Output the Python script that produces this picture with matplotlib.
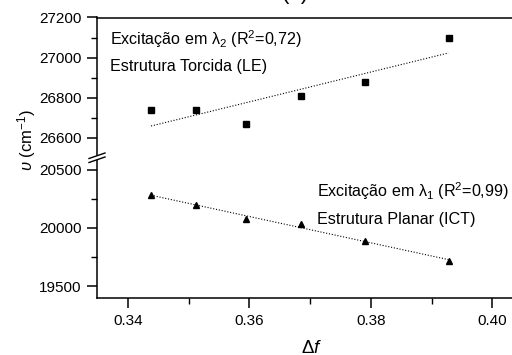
import numpy as np
import matplotlib.pyplot as plt
from matplotlib.lines import Line2D
from matplotlib.patches import Polygon
from matplotlib.ticker import MultipleLocator, FormatStrFormatter

plt.rcParams['font.family'] = ['Liberation Sans', 'DejaVu Sans']
plt.rcParams['mathtext.fontset'] = 'custom'
plt.rcParams['mathtext.rm'] = 'Liberation Sans'
plt.rcParams['mathtext.it'] = 'Liberation Sans:italic'

# Daten
delta_f = [0.3438, 0.3512, 0.3594, 0.3685, 0.3790, 0.3928]
nu_le = [26739, 26739, 26668, 26810, 26881, 27099]     # lambda 2, Torcida (LE)
nu_ict = [20280, 20196, 20080, 20036, 19883, 19717]    # lambda 1, Planar (ICT)

W, H = 512, 355
fig = plt.figure(figsize=(W / 100, H / 100), dpi=100)


def px_box(x0, y0, x1, y1):
    return [x0 / W, 1 - y1 / H, (x1 - x0) / W, (y1 - y0) / H]


ax_top = fig.add_axes(px_box(97, 17.5, 522, 158))
ax_bot = fig.add_axes(px_box(97, 158, 522, 297.7))

x = np.array(delta_f)
for ax, y, marker, ms in [(ax_top, nu_le, 's', 3.8), (ax_bot, nu_ict, '^', 4.6)]:
    ax.plot(x, y, linestyle='none', marker=marker, color='black', markersize=ms)
    k, d = np.polyfit(x, y, 1)
    xf = np.array([x[0], x[-1]])
    ax.plot(xf, k * xf + d, color='black', lw=0.8, linestyle=(0, (1, 1.6)))
    ax.set_xlim(0.3349, 0.4049)
    for s in ax.spines.values():
        s.set_linewidth(1.1)
    ax.tick_params(which='major', direction='out', length=7, width=1.1,
                   labelsize=11, pad=4)
    ax.tick_params(which='minor', direction='out', length=4, width=1.0)
    ax.tick_params(top=False, right=False, which='both')

ax_top.set_ylim(26500, 27200)
ax_top.yaxis.set_major_locator(MultipleLocator(200))
ax_top.yaxis.set_minor_locator(MultipleLocator(100))
ax_top.spines['bottom'].set_visible(False)
ax_top.tick_params(axis='x', which='both', bottom=False, labelbottom=False)

ax_bot.set_ylim(19400, 20600)
ax_bot.yaxis.set_major_locator(MultipleLocator(500))
ax_bot.yaxis.set_minor_locator(MultipleLocator(250))
ax_bot.spines['top'].set_visible(False)
ax_bot.xaxis.set_major_locator(MultipleLocator(0.02))
ax_bot.xaxis.set_minor_locator(MultipleLocator(0.01))
ax_bot.xaxis.set_major_formatter(FormatStrFormatter('%.2f'))
ax_bot.tick_params(axis='x', which='major', pad=4.5)


def fpt(xp, yp):
    return xp / W, 1 - yp / H


# Achsenbruch
gap = Polygon([fpt(89, 158.5), fpt(105, 153), fpt(105, 157), fpt(89, 162.5)],
              closed=True, facecolor='white', edgecolor='none',
              transform=fig.transFigure, zorder=5)
fig.add_artist(gap)
for dy in (0, 4):
    (xa, ya), (xb, yb) = fpt(89, 158.5 + dy), fpt(105, 153 + dy)
    fig.add_artist(Line2D([xa, xb], [ya, yb], color='black', lw=1.0,
                          transform=fig.transFigure, zorder=6))

# Beschriftungen
fig.text(*fpt(110, 45), 'Excitação em λ$_2$ (R$^2$=0,72)', fontsize=11.6, va='baseline')
fig.text(*fpt(110, 71), 'Estrutura Torcida (LE)', fontsize=11.6, va='baseline')
fig.text(*fpt(317, 197), 'Excitação em λ$_1$ (R$^2$=0,99)', fontsize=11.6, va='baseline')
fig.text(*fpt(317, 224), 'Estrutura Planar (ICT)', fontsize=11.6, va='baseline')

fig.text(*fpt(27, 140), r'$\upsilon$ (cm$^{-1}$)', fontsize=12, rotation=90,
         ha='center', va='center')
fig.text(*fpt(312, 340), r'Δ$f$', fontsize=13.5, ha='center', va='top')
fig.text(*fpt(295, -1), '(b)', fontsize=16, ha='center', va='baseline')

fig.savefig('out.png', dpi=100)
